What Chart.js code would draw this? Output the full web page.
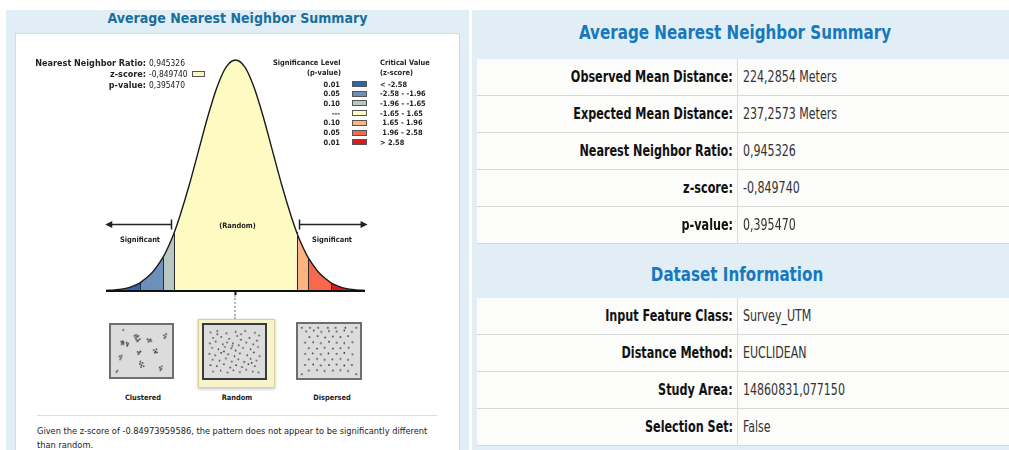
<!DOCTYPE html>
<html>
<head>
<meta charset="utf-8">
<script src="https://cdn.jsdelivr.net/npm/chart.js"></script>
<style>
  body { margin:0; width:1009px; height:450px; background:#fff; position:relative; overflow:hidden;
         font-family:"DejaVu Sans Condensed","DejaVu Sans",sans-serif; font-stretch:condensed; color:#222; }
  .a { position:absolute; white-space:pre; }
  .panel { background:#e1eef6; }
  .b { font-weight:bold; }
  .t8 { font-size:9px; line-height:10px; }
  .v8 { font-size:8.4px; line-height:10px; }
  .t7 { font-size:7.4px; line-height:9px; font-weight:bold; }
  .sw { position:absolute; box-sizing:border-box; border:1px solid #555; }
  .row { position:absolute; left:477px; width:532px; height:37px; box-sizing:border-box;
         background:#fcfcfa; border-bottom:1px solid #d7d7d7; }
  .lab { position:absolute; right:276px; top:0; line-height:36px; font-size:16px; font-weight:bold; color:#111;
         transform-origin:right center; white-space:pre; }
  .val { position:absolute; left:266px; top:0; line-height:36px; font-size:16px; color:#333;
         transform-origin:left center; white-space:pre; }
  .div { position:absolute; left:260px; top:0; width:1px; height:37px; background:#dcdcdc; }
  .h2 { position:absolute; font-size:19px; font-weight:bold; color:#1778bd; white-space:pre; transform-origin:center; }
</style>
</head>
<body>
<!-- left report -->
<div class="a panel" style="left:6px;top:10px;width:463px;height:440px"></div>
<div class="a" style="left:15px;top:33px;width:443px;height:417px;background:#fff;border:1px solid #d3dbe0;border-bottom:none"></div>
<div class="a b" style="left:6px;width:463px;top:9px;line-height:18px;font-size:14px;text-align:center;color:#1b6e9c">Average Nearest Neighbor Summary</div>

<canvas id="curve" class="a" width="443" height="262" style="left:16px;top:33px"></canvas>

<div class="a t7" style="left:200px;width:75px;top:221px;text-align:center">(Random)</div>
<div class="a t7" style="left:100px;width:80px;top:235px;text-align:center">Significant</div>
<div class="a t7" style="left:292px;width:80px;top:235px;text-align:center">Significant</div>

<div class="a" style="left:234px;top:295px;height:24px;border-left:2px dotted #b4b4b4"></div>

<div class="a" style="left:198px;top:319px;width:77px;height:69px;box-sizing:border-box;background:#f7f4cc;border:1px solid #d8d09a;box-shadow:0 1px 3px rgba(0,0,0,0.25)"></div>
<canvas id="boxC" class="a" width="65" height="56" style="left:109px;top:323px;border:2px solid #6e6e6e;background:#dcdcdc"></canvas>
<canvas id="boxR" class="a" width="65" height="57" style="left:202px;top:323px;border:2px solid #3a3a3a;background:#dcdcdc"></canvas>
<canvas id="boxD" class="a" width="66" height="58" style="left:296px;top:322px;border:2px solid #6e6e6e;background:#dcdcdc"></canvas>

<div class="a t7" style="left:103px;width:80px;top:393px;text-align:center">Clustered</div>
<div class="a t7" style="left:197px;width:80px;top:393px;text-align:center">Random</div>
<div class="a t7" style="left:292px;width:80px;top:393px;text-align:center">Dispersed</div>

<div class="a" style="left:37px;top:415px;width:400px;height:1px;background:#dddddd"></div>
<div class="a" style="left:37px;top:424px;font-size:9.2px;line-height:14px;color:#222">Given the z-score of -0.84973959586, the pattern does not appear to be significantly different
than random.</div>

<!-- right report -->
<div class="a panel" style="left:472px;top:10px;width:537px;height:440px"></div>
<div id="title1" class="h2" style="left:480px;width:510px;top:19px;line-height:26px;text-align:center">Average Nearest Neighbor Summary</div>
<div id="title2" class="h2" style="left:480px;width:514px;top:261px;line-height:26px;text-align:center">Dataset Information</div>

<script>
// normal curve (z-score, height)
const zValues = [-3.5, -3.25, -3, -2.75, -2.58, -2.5, -2.25, -2, -1.96, -1.75, -1.65, -1.5, -1.25, -1, -0.75, -0.5, -0.25,
                 0, 0.25, 0.5, 0.75, 1, 1.25, 1.5, 1.65, 1.75, 1.96, 2, 2.25, 2.5, 2.58, 2.75, 3, 3.25, 3.5];
const curveHeights = [0.001, 0.002, 0.004, 0.009, 0.014, 0.018, 0.032, 0.054, 0.058, 0.086, 0.102, 0.130, 0.183, 0.242, 0.301, 0.352, 0.387,
                      0.399, 0.387, 0.352, 0.301, 0.242, 0.183, 0.130, 0.102, 0.086, 0.058, 0.054, 0.032, 0.018, 0.014, 0.009, 0.004, 0.002, 0.001];
const zoneEdges = [-3.5, -2.58, -1.96, -1.65, 1.65, 1.96, 2.58, 3.5];
const zoneColors = ["#2c67ad", "#6d90bb", "#b9c7c3", "#fdfbc2", "#fbb382", "#f7694a", "#e2171b"];
const criticalZ = [-2.58, -1.96, -1.65, 1.65, 1.96, 2.58];
const arrowLevel = 0.116;

// legend
const pLevels = ["0.01", "0.05", "0.10", "---", "0.10", "0.05", "0.01"];
const zRanges = ["< -2.58", "-2.58 - -1.96", "-1.96 - -1.65", "-1.65 - 1.65", " 1.65 - 1.96", " 1.96 - 2.58", "> 2.58"];
const statLabels = ["Nearest Neighbor Ratio:", "z-score:", "p-value:"];
const statValues = ["0,945326", "-0,849740", "0,395470"];

// tables
const summaryLabels = ["Observed Mean Distance:", "Expected Mean Distance:", "Nearest Neighbor Ratio:", "z-score:", "p-value:"];
const summaryValues = ["224,2854 Meters", "237,2573 Meters", "0,945326", "-0,849740", "0,395470"];
const datasetLabels = ["Input Feature Class:", "Distance Method:", "Study Area:", "Selection Set:"];
const datasetValues = ["Survey_UTM", "EUCLIDEAN", "14860831,077150", "False"];

// point patterns in the three boxes (0-100)
const clusteredPts = [[16,97],[3,3],[5,6],
  [12,71],[14,67],[16,70],[13,65],[17,66],[15,72],[22,69],[24,64],[25,67],[23,62],
  [37,84],[40,86],[42,82],[39,80],[44,84],[40,76],[44,74],[47,77],[42,72],
  [61,77],[64,74],[67,76],[63,71],[68,72],[92,85],[95,82],[93,79],[96,88],
  [9,38],[12,35],[10,31],[13,40],[43,48],[46,46],[44,43],[48,49],
  [73,52],[76,49],[78,54],[75,46],[79,47],[47,21],[50,18],[52,23],[49,14],[54,16],[48,26],
  [84,13],[87,10],[85,7],[88,16]];
const randomPts = [[5,92],[18,95],[35,90],[52,93],[70,95],[88,91],[96,85],[10,80],[25,82],[40,78],[55,84],[62,76],[78,80],[92,74],
  [4,68],[15,72],[28,66],[36,70],[47,68],[58,64],[72,70],[85,66],[8,58],[20,55],[32,60],[44,57],[52,52],[66,58],[80,55],[94,60],
  [3,45],[14,42],[25,47],[38,44],[50,40],[60,46],[74,42],[86,48],[97,40],[9,32],[22,30],[34,35],[45,28],[57,33],[68,27],[80,34],[91,30],
  [5,20],[17,18],[30,22],[42,15],[53,20],[64,16],[76,22],[88,18],[10,6],[24,8],[37,4],[48,9],[60,5],[72,10],[84,6],[95,4],
  [30,50],[62,88],[82,25],[46,62],[18,88]];
const dispersedPts = [[8,92],[22,94],[36,91],[50,93],[64,92],[78,94],[92,91],[14,80],[29,82],[43,79],[57,81],[71,80],[85,82],
  [6,68],[21,69],[35,67],[50,70],[64,68],[78,67],[93,69],[13,56],[28,55],[42,57],[57,55],[71,56],[86,57],
  [6,44],[20,45],[35,43],[49,45],[64,44],[78,46],[93,43],[13,32],[28,33],[42,31],[56,32],[71,33],[85,31],
  [6,20],[21,21],[35,19],[50,20],[64,21],[78,19],[92,20],[13,8],[28,9],[42,7],[57,8],[71,9],[85,7],
  [0,100],[15,100],[30,100],[48,100],[62,100],[80,100],[100,100],[0,0],[100,0]];

// ---- html text parts
function put(html) { document.body.insertAdjacentHTML("beforeend", html); }
statLabels.forEach((l, i) => {
  const cy = 63 + i * 11;
  put(`<div class="a t8 b" style="left:10px;width:136px;text-align:right;top:${cy - 5}px">${l}</div>`);
  put(`<div class="a v8" style="left:149px;top:${cy - 5}px">${statValues[i]}</div>`);
});
put(`<div class="sw" style="left:192px;top:71px;width:13px;height:6px;background:#fbf8c0"></div>`);

put(`<div class="a t7" style="left:273px;top:58px">Significance Level</div>`);
put(`<div class="a t7" style="left:260px;width:81px;text-align:right;top:68px">(p-value)</div>`);
put(`<div class="a t7" style="left:380px;top:58px">Critical Value</div>`);
put(`<div class="a t7" style="left:380px;top:68px">(z-score)</div>`);
pLevels.forEach((p, i) => {
  const cy = 84 + i * 9.7;
  put(`<div class="a t7" style="left:300px;width:40px;text-align:right;top:${cy - 4.5}px">${p}</div>`);
  put(`<div class="sw" style="left:352px;top:${cy - 3}px;width:15px;height:6px;background:${zoneColors[i]}"></div>`);
  put(`<div class="a t7" style="left:380px;top:${cy - 4.5}px">${zRanges[i]}</div>`);
});

function buildTable(top, labels, values) {
  labels.forEach((l, i) => {
    put(`<div class="row" style="top:${top + i * 37}px"><span class="lab">${l}</span><div class="div"></div><span class="val">${values[i]}</span></div>`);
  });
}
buildTable(59, summaryLabels, summaryValues);
buildTable(298, datasetLabels, datasetValues);

// squeeze the right report text horizontally like the screenshot
function squeeze(selector, refText, target) {
  const els = [...document.querySelectorAll(selector)];
  const ref = els.find(e => e.textContent === refText) || els[0];
  const r = document.createRange(); r.selectNodeContents(ref);
  const k = target / r.getBoundingClientRect().width;
  els.forEach(e => e.style.transform = `scaleX(${k})`);
}
squeeze(".lab", "Observed Mean Distance:", 162);
squeeze(".val", "224,2854 Meters", 94);
squeeze(".h2", "Average Nearest Neighbor Summary", 312);

// ---- curve chart
const curvePts = zValues.map((z, i) => ({ x: z, y: curveHeights[i] }));
const zoneSets = zoneColors.map((c, i) => ({
  data: curvePts.filter(p => p.x >= zoneEdges[i] - 1e-9 && p.x <= zoneEdges[i + 1] + 1e-9),
  fill: "origin", backgroundColor: c, borderWidth: 0, pointRadius: 0,
  cubicInterpolationMode: "monotone", order: 2, clip: false
}));

const decorations = {
  id: "decorations",
  afterDatasetsDraw(chart) {
    const { ctx, scales: { x, y } } = chart;
    ctx.save();
    ctx.strokeStyle = "#2a2a2a";
    ctx.lineWidth = 1;
    criticalZ.forEach(z => {
      const i = zValues.indexOf(z);
      const px = Math.round(x.getPixelForValue(z)) + 0.5;
      ctx.beginPath();
      ctx.moveTo(px, y.getPixelForValue(0));
      ctx.lineTo(px, y.getPixelForValue(curveHeights[i]));
      ctx.stroke();
    });
    // base line
    ctx.lineWidth = 2;
    ctx.strokeStyle = "#111";
    ctx.beginPath();
    ctx.moveTo(x.getPixelForValue(-3.5), y.getPixelForValue(0));
    ctx.lineTo(x.getPixelForValue(3.5), y.getPixelForValue(0));
    ctx.stroke();
    // small tick at the centre
    ctx.beginPath();
    ctx.moveTo(x.getPixelForValue(0), y.getPixelForValue(0));
    ctx.lineTo(x.getPixelForValue(0), y.getPixelForValue(0) + 4);
    ctx.stroke();
    // significance arrows
    const ay = Math.round(y.getPixelForValue(arrowLevel)) + 0.5;
    ctx.lineWidth = 1.5;
    ctx.strokeStyle = ctx.fillStyle = "#222";
    [[-1.73, -3.52], [1.73, 3.57]].forEach(([from, to]) => {
      const x0 = x.getPixelForValue(from), x1 = x.getPixelForValue(to);
      const dir = Math.sign(x1 - x0);
      ctx.beginPath();
      ctx.moveTo(x0, ay); ctx.lineTo(x1 - dir * 5, ay);
      ctx.moveTo(x0, ay - 5); ctx.lineTo(x0, ay + 5);
      ctx.stroke();
      ctx.beginPath();
      ctx.moveTo(x1, ay); ctx.lineTo(x1 - dir * 7, ay - 3.5); ctx.lineTo(x1 - dir * 7, ay + 3.5);
      ctx.closePath(); ctx.fill();
    });
    ctx.restore();
  }
};

new Chart(document.getElementById("curve"), {
  type: "line",
  data: {
    datasets: [
      { data: curvePts, borderColor: "#1a1a1a", borderWidth: 1.4, fill: false, pointRadius: 0,
        cubicInterpolationMode: "monotone", order: 0, clip: false },
      ...zoneSets
    ]
  },
  options: {
    responsive: false, animation: false,
    layout: { padding: { left: 90, right: 94, top: 27, bottom: 4 } },
    scales: {
      x: { type: "linear", min: -3.5, max: 3.5, display: false },
      y: { min: 0, max: 0.399, display: false }
    },
    plugins: { legend: { display: false }, tooltip: { enabled: false } }
  },
  plugins: [decorations]
});

// ---- point pattern boxes
function patternChart(id, pts) {
  new Chart(document.getElementById(id), {
    type: "scatter",
    data: { datasets: [{ data: pts.map(p => ({ x: p[0], y: p[1] })), pointRadius: 0.9, pointBorderWidth: 0,
                         backgroundColor: "#333", clip: false }] },
    options: {
      responsive: false, animation: false,
      layout: { padding: 2 },
      scales: { x: { min: 0, max: 100, display: false }, y: { min: 0, max: 100, display: false } },
      plugins: { legend: { display: false }, tooltip: { enabled: false } }
    }
  });
}
patternChart("boxC", clusteredPts);
patternChart("boxR", randomPts);
patternChart("boxD", dispersedPts);
</script>
</body>
</html>
